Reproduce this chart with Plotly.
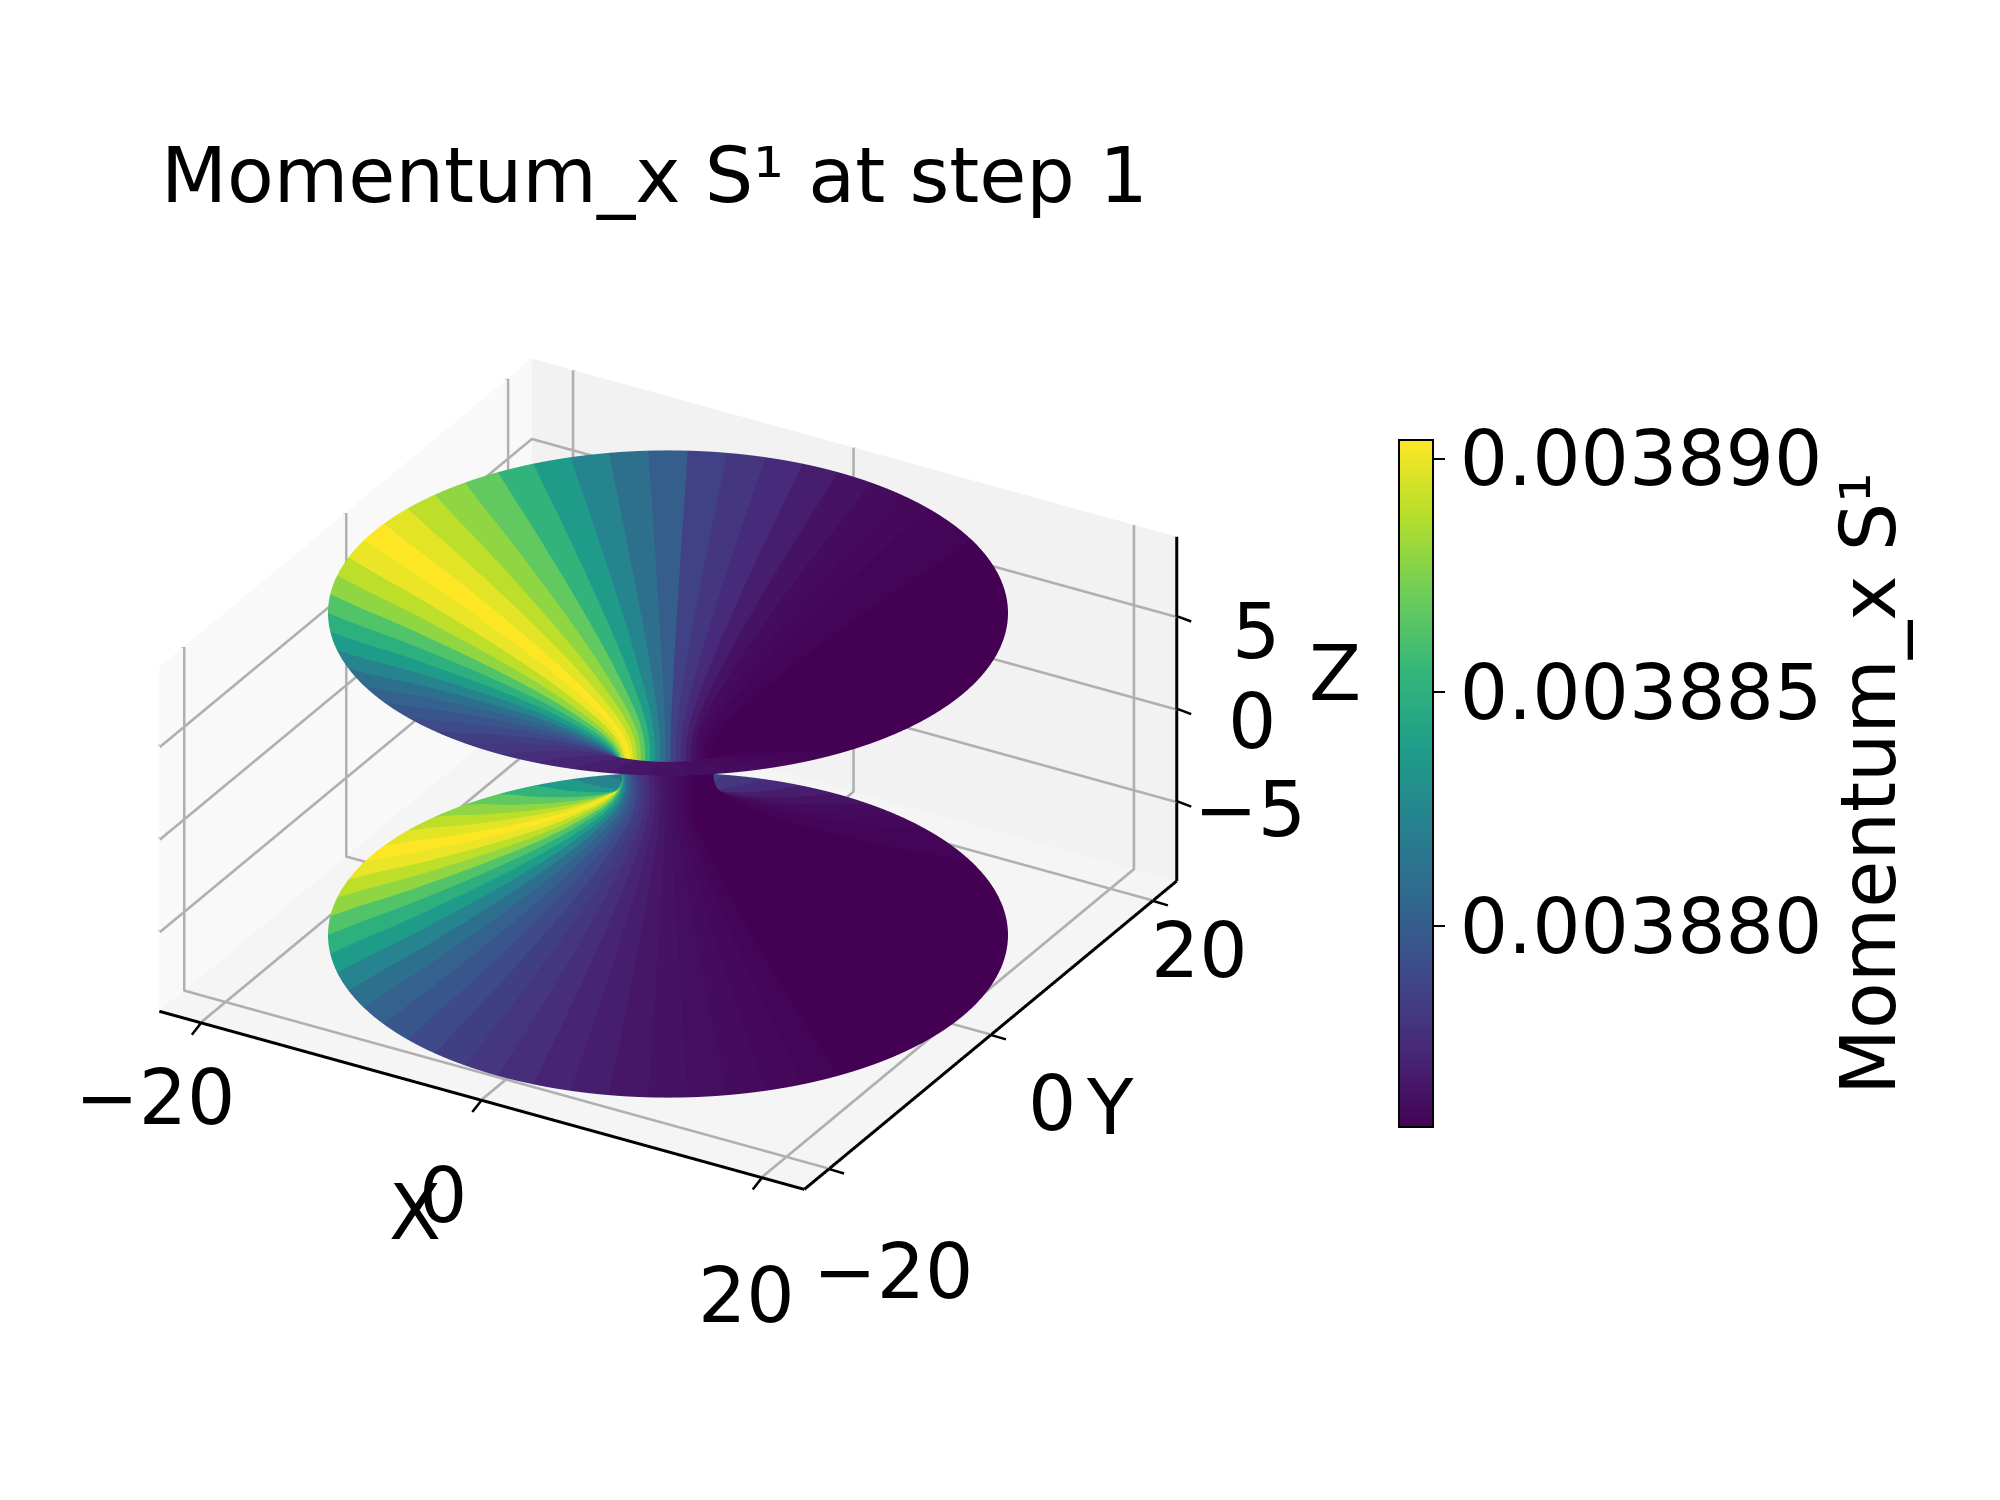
"""Momentum_x on a catenoid-like surface, 3D view with colorbar."""

import numpy as np
import plotly.graph_objects as go

# surface profile: height and radius of one half
profile_z = [0.0, 0.5, 1.0, 1.5, 2.0, 2.5, 3.0, 3.5, 4.0, 4.5, 5.0, 5.5, 6.0, 6.5, 7.0, 7.5, 8.0, 8.7]
profile_r = [2.8, 2.86, 3.05, 3.45, 4.1, 4.95, 5.9, 6.9, 8.0, 9.2, 10.45, 11.75, 13.1, 14.5, 15.9, 17.4, 19.0, 21.0]

# normalised colour of each angular sector, going round from the back of the rim
sector_level = [
    0.30, 0.36, 0.45, 0.55, 0.65, 0.75, 0.83, 0.90, 0.96, 1.00,
    0.97, 0.90, 0.83, 0.72, 0.63, 0.55, 0.45, 0.37, 0.31, 0.27,
    0.23, 0.19, 0.16, 0.13, 0.10, 0.08, 0.06, 0.05, 0.04, 0.03,
    0.02, 0.01, 0.00, 0.00, 0.00, 0.00, 0.00, 0.00, 0.00, 0.00,
    0.00, 0.00, 0.00, 0.00, 0.00, 0.01, 0.01, 0.02, 0.03, 0.05,
    0.08, 0.12, 0.16, 0.20,
]
value_min = 0.0038757
value_max = 0.0038904

x_ticks = [-20, 0, 20]
y_ticks = [-20, 0, 20]
z_ticks = [-5, 0, 5]
cbar_ticks = [0.003880, 0.003885, 0.003890]

x_range = [-23, 23]
y_range = [-23, 23]
z_range = [-9.3, 9.3]

# axis text: label, centre in page pixels
tick_labels = [
    ("−20", 147, 1089), ("0", 435, 1187), ("20", 738, 1287),
    ("−20", 885, 1263), ("0", 1044, 1095), ("20", 1191, 942),
    ("5", 1248, 623), ("0", 1244, 713), ("−5", 1242, 802),
]
axis_titles = [("X", 407, 1204), ("Y", 1102, 1099), ("Z", 1327, 665)]

FONT = "DejaVu Sans"
TICK_FONT = dict(family=FONT, size=76, color="black")
PAGE_W, PAGE_H = 2000, 1500

n = len(sector_level)
sub = 4  # points per sector so the rim stays round
start = np.radians(120.0 - 180.0 / n)
theta = []
color_by_theta = []
for i, level in enumerate(sector_level):
    a0 = start + i * 2 * np.pi / n
    theta.extend(np.linspace(a0, a0 + 2 * np.pi / n, sub + 1))
    color_by_theta.extend([value_min + level * (value_max - value_min)] * (sub + 1))
theta = np.array(theta)
color_by_theta = np.array(color_by_theta)

z_half = np.array(profile_z)
r_half = np.array(profile_r)
zz = np.concatenate([-z_half[::-1], z_half[1:]])
rr = np.concatenate([r_half[::-1], r_half[1:]])

x = np.outer(rr, np.cos(theta))
y = np.outer(rr, np.sin(theta))
z = np.outer(zz, np.ones_like(theta))
c = np.outer(np.ones_like(zz), color_by_theta)

fig = go.Figure()
fig.add_trace(
    go.Surface(
        x=x,
        y=y,
        z=z,
        surfacecolor=c,
        colorscale="Viridis",
        cmin=value_min,
        cmax=value_max,
        lighting=dict(ambient=1.0, diffuse=0.0, specular=0.0, fresnel=0.0, roughness=1.0),
        hoverinfo="skip",
        colorbar=dict(
            x=1391 / PAGE_W,
            xanchor="left",
            xpad=0,
            y=1 - 775.5 / PAGE_H,
            yanchor="middle",
            ypad=0,
            lenmode="pixels",
            len=687,
            thickness=34,
            outlinewidth=2,
            outlinecolor="black",
            ticks="outside",
            ticklen=11,
            tickwidth=2,
            tickcolor="black",
            tickvals=cbar_ticks,
            tickformat=".6f",
            tickfont=TICK_FONT,
            title=dict(text="Momentum_x S¹", side="right", font=dict(family=FONT, size=76.5, color="black")),
        ),
    )
)


def add_segments(segments, color, width):
    xs, ys, zs = [], [], []
    for p0, p1 in segments:
        xs += [p0[0], p1[0], None]
        ys += [p0[1], p1[1], None]
        zs += [p0[2], p1[2], None]
    fig.add_trace(
        go.Scatter3d(
            x=xs, y=ys, z=zs,
            mode="lines",
            line=dict(color=color, width=width),
            hoverinfo="skip",
            showlegend=False,
        )
    )


x0, x1 = x_range
y0, y1 = y_range
z0, z1 = z_range

# grid lines on the three panes
grid = []
for v in x_ticks:
    grid.append(((v, y0, z0), (v, y1, z0)))
    grid.append(((v, y1, z0), (v, y1, z1)))
for v in y_ticks:
    grid.append(((x0, v, z0), (x1, v, z0)))
    grid.append(((x0, v, z0), (x0, v, z1)))
for v in z_ticks:
    grid.append(((x0, y0, v), (x0, y1, v)))
    grid.append(((x0, y1, v), (x1, y1, v)))
add_segments(grid, "#b0b0b0", 8)

# axis lines along the outer edges of the box
add_segments(
    [((x0, y0, z0), (x1, y0, z0)), ((x1, y0, z0), (x1, y1, z0)), ((x1, y1, z0), (x1, y1, z1))],
    "black",
    6,
)


def axis(rng, ticks, pane):
    return dict(
        range=rng,
        tickvals=ticks,
        showticklabels=False,
        title=dict(text=""),
        showbackground=True,
        backgroundcolor=pane,
        showgrid=False,
        zeroline=False,
        showline=False,
        ticks="",
        showspikes=False,
    )


annotations = [
    dict(text=text, x=px / PAGE_W, y=1 - py / PAGE_H, xref="paper", yref="paper", showarrow=False,
         xanchor="center", yanchor="middle", font=TICK_FONT)
    for text, px, py in tick_labels + axis_titles
]


def tick_mark(px, py, pz, dx, dy):
    return dict(x=px, y=py, z=pz, text=" ", showarrow=True, arrowhead=0, arrowwidth=2.5, arrowcolor="black",
                ax=dx, ay=dy, standoff=0, startstandoff=0, font=dict(size=1))


# tick marks hang off the box edges, where the scene would clip a line trace
tick_marks = (
    [tick_mark(v, y0, z0, -11, 14) for v in x_ticks]
    + [tick_mark(x1, v, z0, 17, 5) for v in y_ticks]
    + [tick_mark(x1, y1, v, 16, 6) for v in z_ticks]
)

fig.update_layout(
    width=PAGE_W,
    height=PAGE_H,
    autosize=False,
    paper_bgcolor="white",
    margin=dict(l=0, r=0, t=0, b=0),
    font=dict(family=FONT, color="black"),
    showlegend=False,
    title=dict(
        text="Momentum_x S¹ at step 1",
        x=153 / PAGE_W,
        xanchor="left",
        y=1 - 167 / PAGE_H,
        yanchor="middle",
        font=dict(family=FONT, size=76.5, color="black"),
    ),
    annotations=annotations,
    scene=dict(
        domain=dict(x=[0.0, 0.66], y=[0.023, 0.956]),
        xaxis=axis(x_range, x_ticks, "#f9f9f9"),
        yaxis=axis(y_range, y_ticks, "#f2f2f2"),
        zaxis=axis(z_range, z_ticks, "#f5f5f5"),
        aspectmode="manual",
        aspectratio=dict(x=1.064, y=1.064, z=0.56),
        annotations=tick_marks,
        camera=dict(
            eye=dict(x=0.44 * 1.873, y=-0.762 * 1.873, z=0.479 * 1.873),
            up=dict(x=0, y=0, z=1),
            center=dict(x=0, y=0, z=0),
            projection=dict(type="orthographic"),
        ),
    ),
)

fig.write_html("out.html")
